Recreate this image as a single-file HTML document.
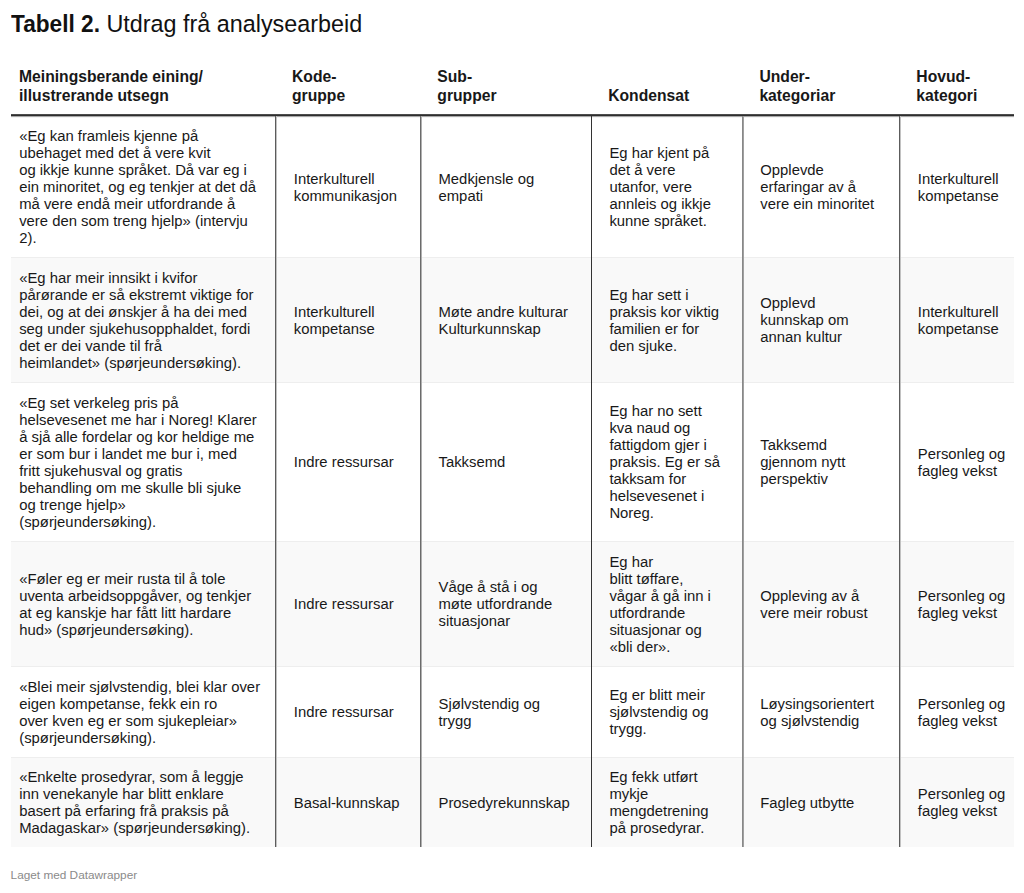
<!DOCTYPE html>
<html><head><meta charset="utf-8">
<style>
html,body{margin:0;padding:0;}
body{width:1024px;height:893px;overflow:hidden;background:#fff;position:relative;font-family:"Liberation Sans",sans-serif;color:#181818;}
.a{position:absolute;}
.t{position:absolute;white-space:nowrap;}
.ti{line-height:28px;color:#111;}
.ti b{font-weight:700;font-size:23px;}
.ti span{font-size:23.35px;}
.h{font-weight:700;font-size:15.7px;line-height:19px;color:#181818;}
.c{font-size:14.85px;line-height:17px;}
.f{font-size:11.8px;line-height:14px;color:#8a8a8a;}
</style></head><body>
<div class="a" style="left:11px;top:257px;width:1003px;height:1px;background:#eeeeee"></div>
<div class="a" style="left:11px;top:258px;width:1003px;height:124px;background:#f9f9f9"></div>
<div class="a" style="left:11px;top:382px;width:1003px;height:1px;background:#eeeeee"></div>
<div class="a" style="left:11px;top:541px;width:1003px;height:1px;background:#eeeeee"></div>
<div class="a" style="left:11px;top:542px;width:1003px;height:124px;background:#f9f9f9"></div>
<div class="a" style="left:11px;top:666px;width:1003px;height:1px;background:#eeeeee"></div>
<div class="a" style="left:11px;top:757px;width:1003px;height:1px;background:#eeeeee"></div>
<div class="a" style="left:11px;top:758px;width:1003px;height:89px;background:#f9f9f9"></div>
<div class="a" style="left:11px;top:114px;width:1003px;height:1px;background:#4b4b4b"></div>
<div class="a" style="left:11px;top:115px;width:1003px;height:1px;background:#2e2e2e"></div>
<div class="a" style="left:11px;top:116px;width:1003px;height:1px;background:#a8a8a8"></div>
<div class="a" style="left:11px;top:117px;width:1003px;height:1px;background:#f4f4f4"></div>
<div class="a" style="left:275px;top:116px;width:1px;height:731px;background:#5c5c5c"></div>
<div class="a" style="left:276px;top:116px;width:1px;height:731px;background:#c2c2c2"></div>
<div class="a" style="left:420px;top:116px;width:1px;height:731px;background:#6b6b6b"></div>
<div class="a" style="left:421px;top:116px;width:1px;height:731px;background:#b0b0b0"></div>
<div class="a" style="left:591px;top:116px;width:1px;height:731px;background:#333333"></div>
<div class="a" style="left:742px;top:116px;width:1px;height:731px;background:#888888"></div>
<div class="a" style="left:743px;top:116px;width:1px;height:731px;background:#a0a0a0"></div>
<div class="a" style="left:899px;top:116px;width:1px;height:731px;background:#5c5c5c"></div>
<div class="a" style="left:900px;top:116px;width:1px;height:731px;background:#c2c2c2"></div>
<div class="t ti" style="left:11px;top:10px;transform-origin:0 0;transform:scaleX(0.985)"><b>Tabell 2.</b></div>
<div class="t ti" style="left:106.5px;top:10px"><span>Utdrag frå analysearbeid</span></div>
<div class="t h" style="left:19px;top:67px">Meiningsberande eining/</div>
<div class="t h" style="left:19px;top:86px">illustrerande utsegn</div>
<div class="t h" style="left:292px;top:67px">Kode-</div>
<div class="t h" style="left:292px;top:86px">gruppe</div>
<div class="t h" style="left:437.3px;top:67px">Sub-</div>
<div class="t h" style="left:437.3px;top:86px">grupper</div>
<div class="t h" style="left:608.2px;top:86px">Kondensat</div>
<div class="t h" style="left:759.4px;top:67px">Under-</div>
<div class="t h" style="left:759.4px;top:86px">kategoriar</div>
<div class="t h" style="left:916.3px;top:67px">Hovud-</div>
<div class="t h" style="left:916.3px;top:86px">kategori</div>
<div class="t c" style="left:19.2px;top:128px">«Eg kan framleis kjenne på</div>
<div class="t c" style="left:19.2px;top:145px">ubehaget med det å vere kvit</div>
<div class="t c" style="left:19.2px;top:162px">og ikkje kunne språket. Då var eg i</div>
<div class="t c" style="left:19.2px;top:179px">ein minoritet, og eg tenkjer at det då</div>
<div class="t c" style="left:19.2px;top:196px">må vere endå meir utfordrande å</div>
<div class="t c" style="left:19.2px;top:213px">vere den som treng hjelp» (intervju</div>
<div class="t c" style="left:19.2px;top:230px">2).</div>
<div class="t c" style="left:293.8px;top:171px">Interkulturell</div>
<div class="t c" style="left:293.8px;top:188px">kommunikasjon</div>
<div class="t c" style="left:438.5px;top:171px">Medkjensle og</div>
<div class="t c" style="left:438.5px;top:188px">empati</div>
<div class="t c" style="left:609.4px;top:145px">Eg har kjent på</div>
<div class="t c" style="left:609.4px;top:162px">det å vere</div>
<div class="t c" style="left:609.4px;top:179px">utanfor, vere</div>
<div class="t c" style="left:609.4px;top:196px">annleis og ikkje</div>
<div class="t c" style="left:609.4px;top:213px">kunne språket.</div>
<div class="t c" style="left:760.3px;top:162px">Opplevde</div>
<div class="t c" style="left:760.3px;top:179px">erfaringar av å</div>
<div class="t c" style="left:760.3px;top:196px">vere ein minoritet</div>
<div class="t c" style="left:917.8px;top:171px">Interkulturell</div>
<div class="t c" style="left:917.8px;top:188px">kompetanse</div>
<div class="t c" style="left:19.2px;top:270px">«Eg har meir innsikt i kvifor</div>
<div class="t c" style="left:19.2px;top:287px">pårørande er så ekstremt viktige for</div>
<div class="t c" style="left:19.2px;top:304px">dei, og at dei ønskjer å ha dei med</div>
<div class="t c" style="left:19.2px;top:321px">seg under sjukehusopphaldet, fordi</div>
<div class="t c" style="left:19.2px;top:338px">det er dei vande til frå</div>
<div class="t c" style="left:19.2px;top:355px">heimlandet» (spørjeundersøking).</div>
<div class="t c" style="left:293.8px;top:304px">Interkulturell</div>
<div class="t c" style="left:293.8px;top:321px">kompetanse</div>
<div class="t c" style="left:438.5px;top:304px">Møte andre kulturar</div>
<div class="t c" style="left:438.5px;top:321px">Kulturkunnskap</div>
<div class="t c" style="left:609.4px;top:287px">Eg har sett i</div>
<div class="t c" style="left:609.4px;top:304px">praksis kor viktig</div>
<div class="t c" style="left:609.4px;top:321px">familien er for</div>
<div class="t c" style="left:609.4px;top:338px">den sjuke.</div>
<div class="t c" style="left:760.3px;top:295px">Opplevd</div>
<div class="t c" style="left:760.3px;top:312px">kunnskap om</div>
<div class="t c" style="left:760.3px;top:329px">annan kultur</div>
<div class="t c" style="left:917.8px;top:304px">Interkulturell</div>
<div class="t c" style="left:917.8px;top:321px">kompetanse</div>
<div class="t c" style="left:19.2px;top:395px">«Eg set verkeleg pris på</div>
<div class="t c" style="left:19.2px;top:412px">helsevesenet me har i Noreg! Klarer</div>
<div class="t c" style="left:19.2px;top:429px">å sjå alle fordelar og kor heldige me</div>
<div class="t c" style="left:19.2px;top:446px">er som bur i landet me bur i, med</div>
<div class="t c" style="left:19.2px;top:463px">fritt sjukehusval og gratis</div>
<div class="t c" style="left:19.2px;top:480px">behandling om me skulle bli sjuke</div>
<div class="t c" style="left:19.2px;top:497px">og trenge hjelp»</div>
<div class="t c" style="left:19.2px;top:514px">(spørjeundersøking).</div>
<div class="t c" style="left:293.8px;top:454px">Indre ressursar</div>
<div class="t c" style="left:438.5px;top:454px">Takksemd</div>
<div class="t c" style="left:609.4px;top:403px">Eg har no sett</div>
<div class="t c" style="left:609.4px;top:420px">kva naud og</div>
<div class="t c" style="left:609.4px;top:437px">fattigdom gjer i</div>
<div class="t c" style="left:609.4px;top:454px">praksis. Eg er så</div>
<div class="t c" style="left:609.4px;top:471px">takksam for</div>
<div class="t c" style="left:609.4px;top:488px">helsevesenet i</div>
<div class="t c" style="left:609.4px;top:505px">Noreg.</div>
<div class="t c" style="left:760.3px;top:437px">Takksemd</div>
<div class="t c" style="left:760.3px;top:454px">gjennom nytt</div>
<div class="t c" style="left:760.3px;top:471px">perspektiv</div>
<div class="t c" style="left:917.8px;top:446px">Personleg og</div>
<div class="t c" style="left:917.8px;top:463px">fagleg vekst</div>
<div class="t c" style="left:19.2px;top:571px">«Føler eg er meir rusta til å tole</div>
<div class="t c" style="left:19.2px;top:588px">uventa arbeidsoppgåver, og tenkjer</div>
<div class="t c" style="left:19.2px;top:605px">at eg kanskje har fått litt hardare</div>
<div class="t c" style="left:19.2px;top:622px">hud» (spørjeundersøking).</div>
<div class="t c" style="left:293.8px;top:596px">Indre ressursar</div>
<div class="t c" style="left:438.5px;top:579px">Våge å stå i og</div>
<div class="t c" style="left:438.5px;top:596px">møte utfordrande</div>
<div class="t c" style="left:438.5px;top:613px">situasjonar</div>
<div class="t c" style="left:609.4px;top:554px">Eg har</div>
<div class="t c" style="left:609.4px;top:571px">blitt tøffare,</div>
<div class="t c" style="left:609.4px;top:588px">vågar å gå inn i</div>
<div class="t c" style="left:609.4px;top:605px">utfordrande</div>
<div class="t c" style="left:609.4px;top:622px">situasjonar og</div>
<div class="t c" style="left:609.4px;top:639px">«bli der».</div>
<div class="t c" style="left:760.3px;top:588px">Oppleving av å</div>
<div class="t c" style="left:760.3px;top:605px">vere meir robust</div>
<div class="t c" style="left:917.8px;top:588px">Personleg og</div>
<div class="t c" style="left:917.8px;top:605px">fagleg vekst</div>
<div class="t c" style="left:19.2px;top:679px">«Blei meir sjølvstendig, blei klar over</div>
<div class="t c" style="left:19.2px;top:696px">eigen kompetanse, fekk ein ro</div>
<div class="t c" style="left:19.2px;top:713px">over kven eg er som sjukepleiar»</div>
<div class="t c" style="left:19.2px;top:730px">(spørjeundersøking).</div>
<div class="t c" style="left:293.8px;top:704px">Indre ressursar</div>
<div class="t c" style="left:438.5px;top:696px">Sjølvstendig og</div>
<div class="t c" style="left:438.5px;top:713px">trygg</div>
<div class="t c" style="left:609.4px;top:687px">Eg er blitt meir</div>
<div class="t c" style="left:609.4px;top:704px">sjølvstendig og</div>
<div class="t c" style="left:609.4px;top:721px">trygg.</div>
<div class="t c" style="left:760.3px;top:696px">Løysingsorientert</div>
<div class="t c" style="left:760.3px;top:713px">og sjølvstendig</div>
<div class="t c" style="left:917.8px;top:696px">Personleg og</div>
<div class="t c" style="left:917.8px;top:713px">fagleg vekst</div>
<div class="t c" style="left:19.2px;top:769px">«Enkelte prosedyrar, som å leggje</div>
<div class="t c" style="left:19.2px;top:786px">inn venekanyle har blitt enklare</div>
<div class="t c" style="left:19.2px;top:803px">basert på erfaring frå praksis på</div>
<div class="t c" style="left:19.2px;top:820px">Madagaskar» (spørjeundersøking).</div>
<div class="t c" style="left:293.8px;top:795px">Basal-kunnskap</div>
<div class="t c" style="left:438.5px;top:795px">Prosedyrekunnskap</div>
<div class="t c" style="left:609.4px;top:769px">Eg fekk utført</div>
<div class="t c" style="left:609.4px;top:786px">mykje</div>
<div class="t c" style="left:609.4px;top:803px">mengdetrening</div>
<div class="t c" style="left:609.4px;top:820px">på prosedyrar.</div>
<div class="t c" style="left:760.3px;top:795px">Fagleg utbytte</div>
<div class="t c" style="left:917.8px;top:786px">Personleg og</div>
<div class="t c" style="left:917.8px;top:803px">fagleg vekst</div>
<div class="t f" style="left:10.6px;top:868px">Laget med Datawrapper</div>
</body></html>
